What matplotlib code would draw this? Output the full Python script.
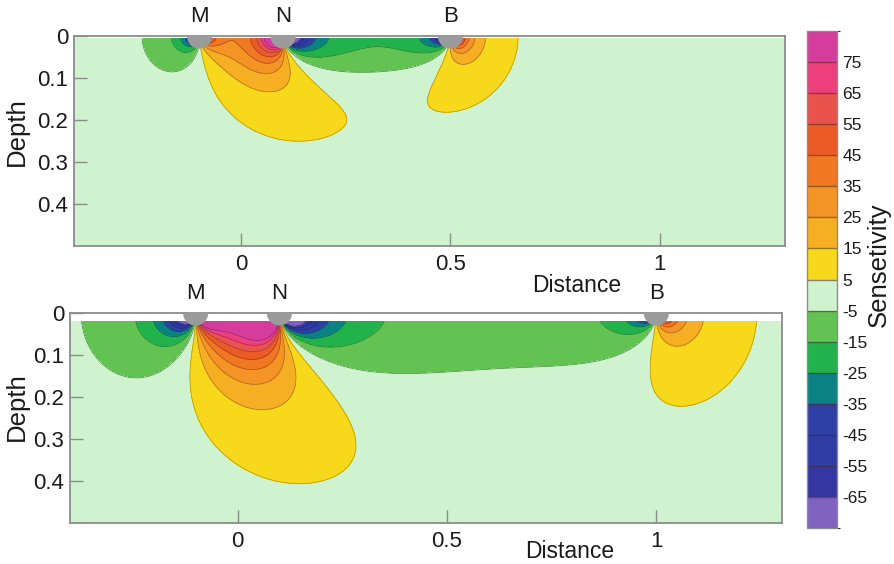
import numpy as np
import matplotlib
matplotlib.use('Agg')
import matplotlib.pyplot as plt
from matplotlib.patches import Wedge
from matplotlib.colors import ListedColormap, BoundaryNorm, to_rgb

plt.rcParams['font.family'] = ['Liberation Sans', 'DejaVu Sans']
plt.rcParams['axes.unicode_minus'] = False

# ---------------- data ----------------
electrode_labels = ['M', 'N', 'B']
electrodes_top = [-0.1, 0.1, 0.5]        # x positions of M, N, B (upper panel)
electrodes_bottom = [-0.1, 0.1, 1.0]     # x positions of M, N, B (lower panel)
panel_scale = [0.257, 2.50]              # sensitivity scaling of each panel
panel_top_depth = [0.006, 0.02]          # first computed depth of each panel
levels = list(range(-75, 86, 10))
cbar_ticks = list(range(-65, 76, 10))
x_ticks = [0, 0.5, 1]
x_ticklabels = ['0', '0.5', '1']
y_ticks = [0, 0.1, 0.2, 0.3, 0.4]
y_ticklabels = ['0', '0.1', '0.2', '0.3', '0.4']
level_colors = ['#8062c0', '#3437a2', '#2f3ca4', '#2e40a6', '#0a8283', '#22b24c',
                '#62c352', '#cff3cf', '#f8d81a', '#f6af22', '#f39425', '#f07822',
                '#ec5b26', '#e9534c', '#ec3f7c', '#d63c9c']
x_range = (-0.4, 1.3)
depth_range = (0.0, 0.5)


def sensitivity_25d(X, Z, xM, xN, xB):
    """2.5D sensitivity (point electrodes, 2D section) of the M-N-B array."""
    yv = np.logspace(-5, 4, 360)
    w = yv * np.gradient(np.log(yv))
    z2 = Z * Z
    aB = (X - xB) ** 2 + z2
    aN = (X - xN) ** 2 + z2
    aM = (X - xM) ** 2 + z2
    dBN = (X - xB) * (X - xN) + z2
    dBM = (X - xB) * (X - xM) + z2
    tot = 1e-5 * (dBN / (aB * aN) ** 1.5 - dBM / (aB * aM) ** 1.5)
    for y, wi in zip(yv, w):
        y2 = y * y
        b = aB + y2
        n = aN + y2
        m = aM + y2
        pB = 1.0 / (b * np.sqrt(b))
        tot += wi * pB * ((dBN + y2) / (n * np.sqrt(n)) - (dBM + y2) / (m * np.sqrt(m)))
    return 2 * tot


cmap = ListedColormap(level_colors)
norm = BoundaryNorm(levels, cmap.N)


def darker(c, f=0.72):
    r, g, b = to_rgb(c)
    return (r * f, g * f, b * f)


line_levels = levels[1:-1]
line_colors = []
for L in line_levels:
    i = levels.index(L)
    line_colors.append(darker(level_colors[i] if L > 0 else level_colors[i - 1]))

W, H = 894, 564
fig = plt.figure(figsize=(W / 100, H / 100), dpi=100)


def px_axes(x0, y0, x1, y1):
    return fig.add_axes([x0 / W, 1 - y1 / H, (x1 - x0) / W, (y1 - y0) / H])


ax_top = px_axes(74, 36, 785, 246)
ax_bot = px_axes(70, 313, 782, 523)

frame_col = '#8c8c8c'
cf = None
for ax, elec, scale, z0 in zip([ax_top, ax_bot], [electrodes_top, electrodes_bottom],
                               panel_scale, panel_top_depth):
    x = np.linspace(x_range[0], x_range[1], 851)
    z = np.linspace(z0, depth_range[1], 260)
    X, Z = np.meshgrid(x, z)
    S = scale * sensitivity_25d(X, Z, elec[0], elec[1], elec[2])
    S = np.clip(S, levels[0] + 0.01, levels[-1] - 0.01)
    cf = ax.contourf(X, Z, S, levels=levels, cmap=cmap, norm=norm)
    ax.contour(X, Z, S, levels=line_levels, colors=line_colors, linewidths=0.55)
    ax.set_xlim(*x_range)
    ax.set_ylim(depth_range[1], depth_range[0])
    ax.set_xticks(x_ticks)
    ax.set_xticklabels(x_ticklabels)
    ax.set_yticks(y_ticks)
    ax.set_yticklabels(y_ticklabels)
    ax.tick_params(direction='in', length=9.5, width=1.0, color=frame_col,
                   labelsize=16, pad=4, labelcolor='#1a1a1a')
    ax.tick_params(axis='x', pad=6)
    for sp in ax.spines.values():
        sp.set_color(frame_col)
        sp.set_linewidth(1.3)
    for lab, xe in zip(electrode_labels, elec):
        ax.add_patch(Wedge((xe, 0), 0.03, 0, 180, facecolor='#9b9b9b',
                           edgecolor='none', zorder=6, clip_on=False))
        ax.text(xe, -0.046, lab, ha='center', va='center', fontsize=16,
                color='#1a1a1a', clip_on=False)

# axis titles
fig.text(577 / W, 1 - 285 / H, 'Distance', ha='center', va='center', fontsize=16.5, color='#1a1a1a')
fig.text(570 / W, 1 - 552 / H, 'Distance', ha='center', va='center', fontsize=16.5, color='#1a1a1a')
fig.text(17 / W, 1 - 132 / H, 'Depth', ha='center', va='center', fontsize=18.5, rotation=90, color='#1a1a1a')
fig.text(17 / W, 1 - 407 / H, 'Depth', ha='center', va='center', fontsize=18.5, rotation=90, color='#1a1a1a')

# colour bar
cax = px_axes(807, 31, 837, 528)
cb = fig.colorbar(cf, cax=cax, ticks=cbar_ticks, drawedges=True)
cb.outline.set_edgecolor(frame_col)
cb.outline.set_linewidth(1.0)
cb.dividers.set_color((0.3, 0.15, 0.15, 0.55))
cb.dividers.set_linewidth(1.0)
cax.tick_params(length=0, labelsize=12.5, pad=4, labelcolor='#1a1a1a')
fig.text(879 / W, 1 - 265 / H, 'Sensetivity', ha='center', va='center',
         fontsize=18.5, rotation=90, color='#1a1a1a')

fig.savefig('out.png', dpi=100)
